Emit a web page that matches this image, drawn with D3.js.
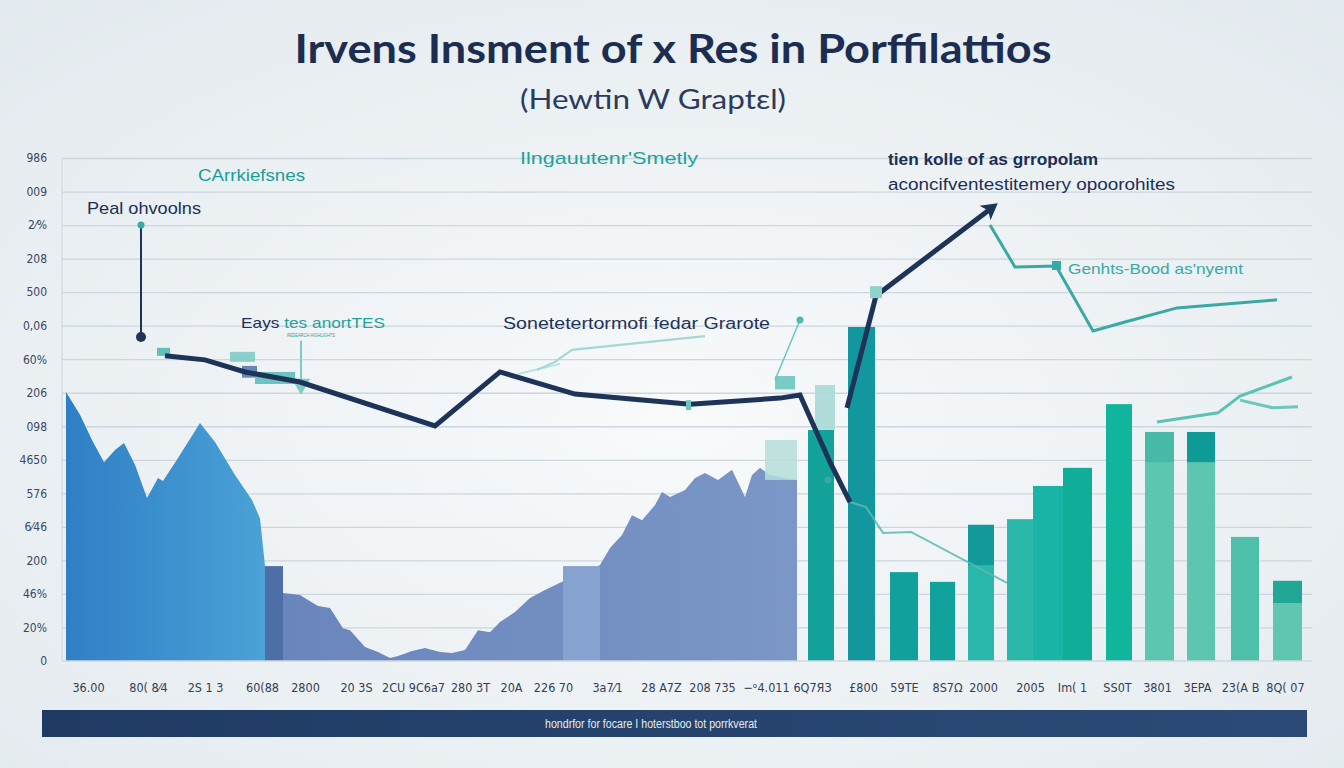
<!DOCTYPE html>
<html><head><meta charset="utf-8">
<script src="https://cdn.jsdelivr.net/npm/d3@7"></script>
<style>html,body{margin:0;padding:0;overflow:hidden;background:#eef2f4}</style>
</head><body>
<svg id="c" width="1344" height="768"></svg>
<script>
// ---------------- DATA ----------------
const yTickLabels = ["0","20%","46%","200","6⁄46","576","4650","098","206","60%","0,06","500","208","2⁄%","009","986"];
const xTickPos = [5.2,17.2,28.6,40,48.6,58.8,70.2,81.6,89.8,98.2,109,119.8,130,140.8,150,160.2,168.4,177,184.2,193.6,202,211,219,227,235.6,244.6];
const xTickLabels = ["36.00","80( 8⁄4","2S 1 3","60(88","2800","20 3S","2CU 9C6a7","280 3T","20A","226 70","3a7⁄1","28 A7Z","208 735","−ᵒ4.011","6Q7ЯЗ","£800","59TE","8S7Ω","2000","2005","Im( 1","SS0T","3801","3EPA","23(A B","8Q( 07"];

const areaBlue = [[0.8,0],[0.8,80.2],[3.6,73.4],[6,65.9],[8.4,59.3],[10.6,62.9],[12.4,65],[14.6,58.5],[17,48.6],[19.2,54.6],[20.2,53.7],[23.2,60.5],[27.6,71],[30.6,65.3],[34.6,55.5],[38,48],[39.6,42.6],[40.6,28.3],[40.6,0]];
const areaSlate = [[44.2,0],[44.2,20.3],[47.6,19.7],[49.2,18.2],[51.2,16.4],[53.6,15.8],[56.2,9.8],[57.6,9.2],[60.6,4.2],[63.2,2.7],[65.6,0.9],[67.2,1.5],[70,3],[72.6,3.9],[75.6,2.7],[78,2.4],[80.6,3.3],[83.2,9.2],[85.6,8.6],[87.6,11.6],[90.6,14.6],[93.6,18.8],[96.6,21.2],[99.6,23.3],[107.6,28.6],[109.6,33.7],[112,37.6],[114,43.5],[116,42],[118.6,46.5],[120,50.4],[121.6,48.9],[124.6,51],[126.6,54.6],[128.6,56.1],[131.2,54],[134,57],[136.6,48.9],[138,55.5],[139.6,57.6],[141.6,55.5],[144.6,54.6],[147,54],[147,0]];
// blocks: [x0, x1, bottom, top]
const blockDark  = [40.6, 44.2, 0, 28.3];
const blockLight = [100.2, 107.6, 0, 28.3];
const blockPale1 = [140.6, 147, 54, 65.9];
const blockPale2 = [150.6, 154.6, 68.9, 82.3];

const barX0   = [149.2,157.2,165.6,173.6,181.2,189,194.2,200.2,208.8,216.6,225,233.8,242.2];
const barX1   = [154.4,162.6,171.2,178.6,186.4,194.2,200.2,206,214,222.4,230.6,239.4,248];
const barTop  = [68.9,99.6,26.5,23.6,40.6,42.3,52.2,57.6,76.6,68.3,68.3,37,23.9];
const barBand = [null,null,null,null,28.6,null,null,null,null,59.3,59.3,null,17.3];

const navyLine = [[20.6,91],[28.6,89.8],[36.6,86.2],[47.6,83.2],[74.6,70.1],[87.6,86.2],[102.6,79.6],[125.6,76.6],[143.6,78.4],[147.6,79.3],[153.6,59.3],[157.6,47.4]];
const navyRise = [[157,75.5],[162.8,108.9],[186.2,135.4]];
const tealUpper = [[185.6,130],[190.6,117.5],[198.8,117.8],[206.2,98.4],[212.6,101.1],[223,105.3],[243,107.7]];
const tealLower = [[157.6,47.4],[160.8,45.9],[164.2,38.2],[169.8,38.5],[189,23.3]];
const tealRightA = [[219,71.3],[231.2,74],[235.6,79],[246,84.7]];
const tealRightB = [[235.6,77.8],[242.2,75.5],[247.2,75.8]];
const tealMid = [[95,86.8],[98.6,89.2],[102,92.8],[128.6,96.9]];
const tealMid2 = [[91.2,85.6],[99.6,88.6]];
const leaderPeak = [[15.8,130],[15.8,96.6]];
const leaderRight = [[142.6,83.8],[147.6,101.7]];
const leaderTri = [[47.8,95.5],[47.8,84]];

// ---------------- DRAW ----------------
const svg = d3.select("#c");
const x = d3.scaleLinear().domain([0,250]).range([62,1312]);
const y = d3.scaleLinear().domain([0,150]).range([661,158]);
const defs = svg.append("defs");

const bg = defs.append("radialGradient").attr("id","bg").attr("cx","50%").attr("cy","55%").attr("r","75%");
bg.append("stop").attr("offset","0%").attr("stop-color","#f8fafb");
bg.append("stop").attr("offset","100%").attr("stop-color","#e2e9ee");
svg.append("rect").attr("width",1344).attr("height",768).attr("fill","url(#bg)");

function lg(id, c1, c2, vertical){
  const g = defs.append("linearGradient").attr("id",id).attr("x1","0").attr("y1","0")
    .attr("x2", vertical?"0":"1").attr("y2", vertical?"1":"0");
  g.append("stop").attr("offset","0%").attr("stop-color",c1);
  g.append("stop").attr("offset","100%").attr("stop-color",c2);
}
lg("gBlue","#2f7fc6","#4aa2d6",false);
lg("gSlate","#6985bb","#7b97c7",false);
lg("gBar","#1f3b64","#2b4b76",false);

// grid
const gridG = svg.append("g").attr("transform",`translate(${x(0)},0)`)
  .call(d3.axisLeft(y).tickValues(d3.range(10,151,10)).tickSize(-(x(250)-x(0))).tickFormat(""));
gridG.select(".domain").remove();
gridG.selectAll("line").attr("stroke","#ccd6de").attr("stroke-width",1.3);
svg.append("line").attr("x1",x(0)).attr("x2",x(0)).attr("y1",y(150)).attr("y2",y(0)).attr("stroke","#d3dbe2").attr("stroke-width",1.2);

// y labels
const yAx = svg.append("g").attr("transform","translate(47,0)")
  .call(d3.axisLeft(y).tickValues(d3.range(0,151,10)).tickSize(0).tickPadding(0).tickFormat((d,i)=>yTickLabels[i]));
yAx.select(".domain").remove();
yAx.selectAll("text").attr("font-family","'Liberation Sans Narrow','DejaVu Sans Condensed',Arial,sans-serif")
  .attr("font-size",12).attr("fill","#3b4760");

// areas
const area = d3.line().x(d=>x(d[0])).y(d=>y(d[1]));
svg.append("path").attr("d",area(areaBlue)+"Z").attr("fill","url(#gBlue)");
svg.append("path").attr("d",area(areaSlate)+"Z").attr("fill","url(#gSlate)");
function block(b, fill, op){
  svg.append("rect").attr("x",x(b[0])).attr("width",x(b[1])-x(b[0]))
    .attr("y",y(b[3])).attr("height",y(b[2])-y(b[3])).attr("fill",fill).attr("opacity",op||1);
}
block(blockDark,"#4d6ea6");
block(blockLight,"#86a3cf");
block(blockPale1,"#b5dedb",0.85);

// bars
const barFill = ["#14a39b","#12979f","#12a09c","#12a29c","#2ab7ac","#2ab8aa","#19b4a5","#10ae98","#10b59c","#5dc6b1","#5dc6b1","#4ebfab","#5ec6b1"];
const bandFill = [null,null,null,null,"#12999a",null,null,null,null,"#46b9a7","#0e9a96",null,"#22a797"];
svg.append("g").selectAll("rect").data(barTop).join("rect")
  .attr("x",(d,i)=>x(barX0[i])).attr("width",(d,i)=>x(barX1[i])-x(barX0[i]))
  .attr("y",d=>y(d)).attr("height",d=>y(0)-y(d)).attr("fill",(d,i)=>barFill[i]);
svg.append("g").selectAll("rect").data(barTop.map((d,i)=>[d,i]).filter(p=>barBand[p[1]]!==null)).join("rect")
  .attr("x",p=>x(barX0[p[1]])).attr("width",p=>x(barX1[p[1]])-x(barX0[p[1]]))
  .attr("y",p=>y(p[0])).attr("height",p=>y(barBand[p[1]])-y(p[0])).attr("fill",p=>bandFill[p[1]]);
block(blockPale2,"#a9d9d6",0.9);

// baseline
svg.append("line").attr("x1",x(0)).attr("x2",x(250)).attr("y1",y(0)).attr("y2",y(0)).attr("stroke","#cfd8df").attr("stroke-width",1.5);

// lines
const ln = d3.line().x(d=>x(d[0])).y(d=>y(d[1]));
function path(data, color, w, op){
  return svg.append("path").attr("d",ln(data)).attr("fill","none").attr("stroke",color)
    .attr("stroke-width",w).attr("stroke-linejoin","miter").attr("stroke-linecap","butt").attr("opacity",op||1);
}
path(tealMid2,"#b9e2dc",2);
path(tealMid,"#a3d9d2",2.2);
path(tealLower,"#5ab9b0",2,0.85);
path(tealRightA,"#5cc3b3",3);
path(tealRightB,"#6cc8ba",3);
path(tealUpper,"#3aa9a6",3);
path(leaderPeak,"#1f3358",2);
path(leaderRight,"#6cc6bd",1.5);
path(leaderTri,"#7fcbc4",2);

// decorative markers on left
function rectD(x0,x1,y0,y1,fill,op){
  svg.append("rect").attr("x",x(x0)).attr("width",x(x1)-x(x0)).attr("y",y(y1)).attr("height",y(y0)-y(y1)).attr("fill",fill).attr("opacity",op||1);
}
rectD(19,21.6,91,93.4,"#5fc1b7");
rectD(33.6,38.6,89.2,92.2,"#7fcdc6",0.9);
rectD(36,39,84.5,88,"#6785b9");
rectD(38.6,46.6,82.6,86.2,"#6cc3bf");
rectD(142.6,146.6,81,85,"#6cc6bd",0.9);
svg.append("path").attr("d",d3.symbol(d3.symbolTriangle,150)()).attr("fill","#7fcbc4")
  .attr("transform",`translate(${x(47.8)},${y(82.6)}) rotate(180)`);

path(navyLine,"#1d3358",5);
const navyR = path(navyRise,"#1d3358",5);
// arrow head
const last = navyRise[navyRise.length-1], prev = navyRise[navyRise.length-2];
const ang = Math.atan2(y(last[1])-y(prev[1]), x(last[0])-x(prev[0]))*180/Math.PI;
svg.append("path").attr("d","M6,0 L-10,-9 L-6,0 L-10,9 Z").attr("fill","#1d3358")
  .attr("transform",`translate(${x(last[0])},${y(last[1])}) rotate(${ang})`);

// dots / markers
svg.append("circle").attr("cx",x(15.8)).attr("cy",y(96.6)).attr("r",5).attr("fill","#1d3358");
svg.append("circle").attr("cx",x(15.8)).attr("cy",y(130)).attr("r",3.5).attr("fill","#3aa9a6");
svg.append("circle").attr("cx",x(147.6)).attr("cy",y(101.7)).attr("r",3.5).attr("fill","#4fbab0");
svg.append("rect").attr("x",x(162.8)-6).attr("y",y(110)-6).attr("width",12).attr("height",12).attr("fill","#8fd3cc");
svg.append("rect").attr("x",x(198.8)-4).attr("y",y(117.8)-5).attr("width",9).attr("height",9).attr("fill","#3aa9a6");
svg.append("rect").attr("x",x(125.2)-2).attr("y",y(76.6)-4).attr("width",5).attr("height",10).attr("fill","#6cc6bd");
svg.append("circle").attr("cx",x(153.2)).attr("cy",y(54)).attr("r",3.5).attr("fill","#3aa9a6");

// x labels
const xAx = svg.append("g").attr("transform","translate(0,680)")
  .call(d3.axisBottom(x).tickValues(xTickPos).tickSize(0).tickPadding(3).tickFormat((d,i)=>xTickLabels[i]));
xAx.select(".domain").remove();
xAx.selectAll("text").attr("font-family","'Liberation Sans Narrow','DejaVu Sans Condensed',Arial,sans-serif")
  .attr("font-size",12.5).attr("fill","#343e52");

// titles
function txt(s, px, py, size, color, weight, len, anchor, fam){
  const t = svg.append("text").attr("x",px).attr("y",py).attr("font-size",size).attr("fill",color)
    .attr("font-weight",weight||400).attr("text-anchor",anchor||"start")
    .attr("font-family",fam||"'Liberation Sans',Arial,sans-serif").text(s);
  if(len) t.attr("textLength",len).attr("lengthAdjust","spacingAndGlyphs");
  return t;
}
txt("Irvens Insment of x Res in Porffilattios",673,63,40,"#1c2d52",700,757,"middle","Lato,'Liberation Sans',sans-serif");
txt("(Hewtin W Graptεl)",653,109,26,"#2b3b5c",400,266,"middle","Lato,'Liberation Sans',sans-serif");

txt("CArrkiefsnes",198,181,16,"#1a9e98",400,107);
txt("Peal ohvoolns",87,214,17,"#1d2f55",400,114);
txt("Ilngauutenr'Smetly",520,164,17,"#1ea39a",400,178);
const e = txt("",241,328,15,"#1d2f55",400,144);
e.append("tspan").text("Eays ");
e.append("tspan").attr("fill","#1ea39a").text("tes anortTES");
txt("RESEARCH HIGHLIGHTS",287,337,6,"#1ea39a",400,48);
txt("Sonetetertormofi fedar Grarote",503,329,16,"#1f3358",400,267);
txt("tien kolle of as grropolam",888,165,16,"#1d2f55",700,210);
txt("aconcifventestitemery opoorohites",888,190,16,"#1d2f55",400,287);
txt("Genhts-Bood as'nyemt",1068,274,15,"#3aa9a6",400,175);

// bottom bar
svg.append("rect").attr("x",42).attr("y",710).attr("width",1265).attr("height",27).attr("fill","url(#gBar)");
txt("hondrfor for focare I hoterstboo tot porrkverat",651,728,12,"#e4ecf5",400,212,"middle");
</script>
</body></html>
